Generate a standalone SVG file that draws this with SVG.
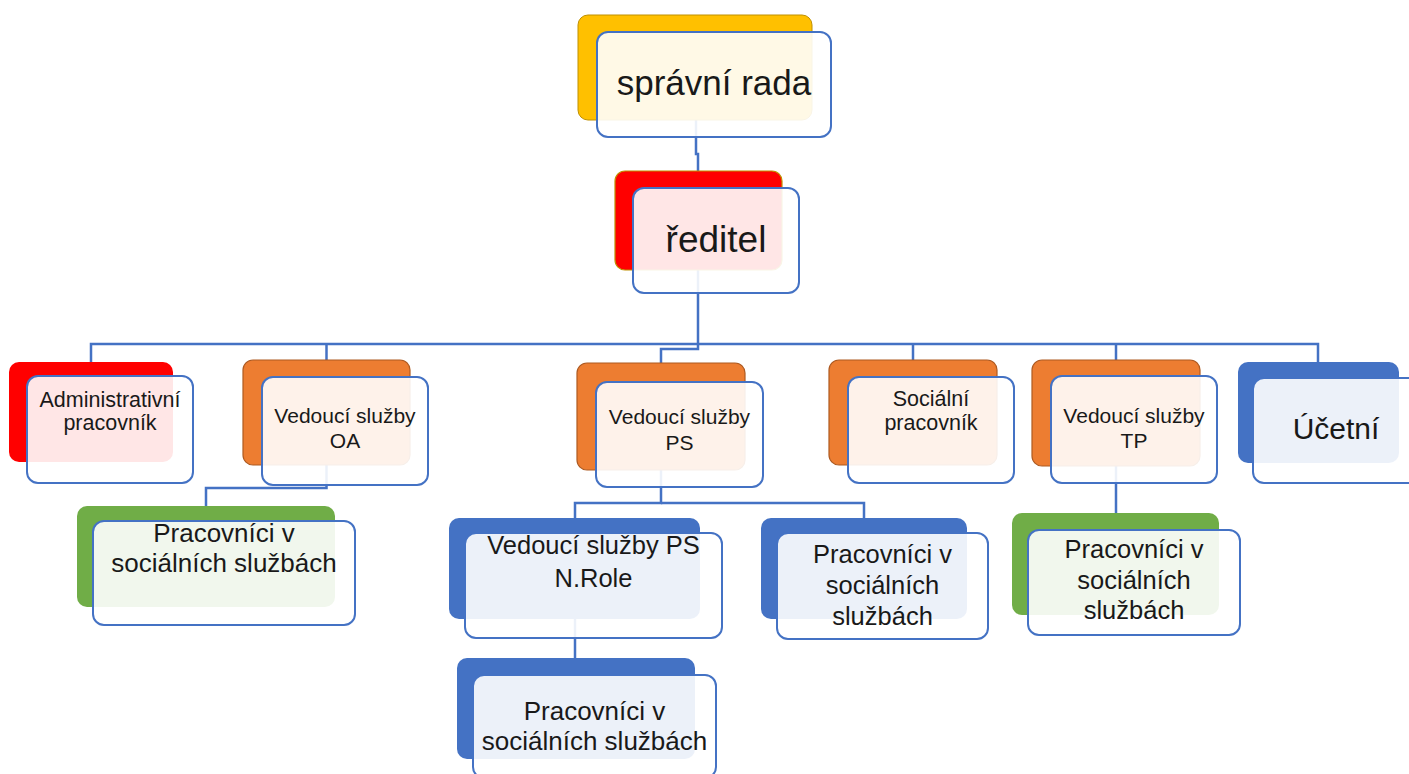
<svg xmlns="http://www.w3.org/2000/svg" width="1409" height="774" viewBox="0 0 1409 774">
<style>
.conn{fill:none;stroke:#4472C4;stroke-width:2.5}
.front{fill:#FFFFFF;fill-opacity:0.9;stroke:#4472C4;stroke-width:2}
.gold{fill:#FFC000;stroke:#BF9000;stroke-width:1}
.red{fill:#FF0000}
.redb{fill:#FF0000;stroke:#BF9000;stroke-width:1.2}
.orange{fill:#ED7D31;stroke:#AE5A21;stroke-width:1.2}
.blue{fill:#4472C4}
.green{fill:#70AD47}
text{font-family:"Liberation Sans",Arial,sans-serif;fill:#191919;text-anchor:middle}
</style>
<rect width="1409" height="774" fill="#FFFFFF"/>
<g id="connectors">
<path class="conn" d="M696,120 V154 H698 V171"/>
<path class="conn" d="M698,270 V349 H661 V363"/>
<path class="conn" d="M91,362 V344 H1318 V362"/>
<path class="conn" d="M326.5,344 V360"/>
<path class="conn" d="M913,344 V360"/>
<path class="conn" d="M1116,344 V360"/>
<path class="conn" d="M326.5,465 V488 H206 V506"/>
<path class="conn" d="M661,470 V503 H575 V518"/>
<path class="conn" d="M661,503 H864 V518"/>
<path class="conn" d="M1116,466 V513"/>
<path class="conn" d="M575,619 V658"/>
</g>
<g id="n-spravni-rada">
<rect class="gold" x="578" y="15" width="234" height="105" rx="10"/>
<rect class="front" x="597" y="32" width="234" height="105" rx="11"/>
<text x="714" y="95" font-size="35">správní rada</text>
</g>
<g id="n-reditel">
<rect class="redb" x="615" y="171" width="167" height="99" rx="10"/>
<rect class="front" x="633" y="188" width="166" height="105" rx="11"/>
<text x="716" y="252" font-size="37">ředitel</text>
</g>
<g id="n-admin">
<rect class="red" x="9" y="362" width="164" height="100" rx="10"/>
<rect class="front" x="27" y="376" width="166" height="107" rx="11"/>
<text x="110" y="407" font-size="21.5">Administrativní</text>
<text x="110" y="430" font-size="21.5">pracovník</text>
</g>
<g id="n-vedouci-oa">
<rect class="orange" x="243" y="360" width="167" height="105" rx="10"/>
<rect class="front" x="262" y="377" width="166" height="108" rx="11"/>
<text x="345" y="423" font-size="21">Vedoucí služby</text>
<text x="345" y="448" font-size="21">OA</text>
</g>
<g id="n-vedouci-ps">
<rect class="orange" x="577" y="363" width="168" height="107" rx="10"/>
<rect class="front" x="596" y="382" width="167" height="105" rx="11"/>
<text x="679.5" y="424" font-size="21">Vedoucí služby</text>
<text x="679.5" y="450" font-size="21">PS</text>
</g>
<g id="n-socialni">
<rect class="orange" x="829" y="360" width="168" height="105" rx="10"/>
<rect class="front" x="848" y="377" width="166" height="106" rx="11"/>
<text x="931" y="406" font-size="21.5">Sociální</text>
<text x="931" y="430" font-size="21.5">pracovník</text>
</g>
<g id="n-vedouci-tp">
<rect class="orange" x="1032" y="360" width="168" height="106" rx="10"/>
<rect class="front" x="1051" y="376" width="166" height="107" rx="11"/>
<text x="1134" y="423" font-size="21">Vedoucí služby</text>
<text x="1134" y="448" font-size="21">TP</text>
</g>
<g id="n-ucetni">
<rect class="blue" x="1238" y="362" width="161" height="101" rx="10"/>
<rect class="front" x="1253" y="378" width="167" height="105" rx="11"/>
<text x="1336" y="439" font-size="30">Účetní</text>
</g>
<g id="n-pracovnici-oa">
<rect class="green" x="77" y="506" width="258" height="101" rx="10"/>
<rect class="front" x="93" y="521" width="262" height="104" rx="11"/>
<text x="224" y="542" font-size="26">Pracovníci v</text>
<text x="224" y="572" font-size="26">sociálních službách</text>
</g>
<g id="n-vedouci-ps-nrole">
<rect class="blue" x="449" y="518" width="251" height="101" rx="10"/>
<rect class="front" x="465" y="533" width="257" height="105" rx="11"/>
<text x="593.5" y="554" font-size="25.5">Vedoucí služby PS</text>
<text x="593.5" y="587" font-size="25.5">N.Role</text>
</g>
<g id="n-pracovnici-ps">
<rect class="blue" x="761" y="518" width="206" height="101" rx="10"/>
<rect class="front" x="777" y="533" width="211" height="106" rx="11"/>
<text x="882.5" y="563" font-size="25.5">Pracovníci v</text>
<text x="882.5" y="594" font-size="25.5">sociálních</text>
<text x="882.5" y="625" font-size="25.5">službách</text>
</g>
<g id="n-pracovnici-tp">
<rect class="green" x="1012" y="513" width="207" height="102" rx="10"/>
<rect class="front" x="1028" y="530" width="212" height="105" rx="11"/>
<text x="1134" y="558" font-size="25.5">Pracovníci v</text>
<text x="1134" y="589" font-size="25.5">sociálních</text>
<text x="1134" y="619" font-size="25.5">službách</text>
</g>
<g id="n-pracovnici-nrole">
<rect class="blue" x="457" y="658" width="238" height="101" rx="10"/>
<rect class="front" x="473" y="675" width="243" height="103" rx="11"/>
<text x="594.5" y="720" font-size="26">Pracovníci v</text>
<text x="594.5" y="750" font-size="26">sociálních službách</text>
</g>
</svg>
